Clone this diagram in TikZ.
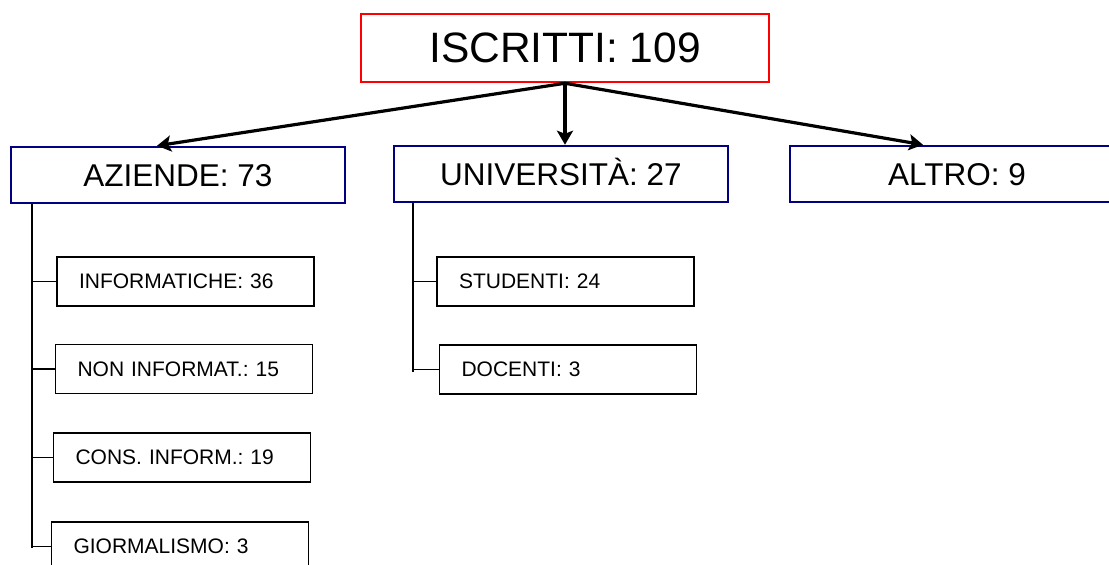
\documentclass[tikz,border=0pt]{standalone}
\usepackage{fontspec}
\setmainfont{Liberation Sans}
\usetikzlibrary{arrows, arrows.meta}
\usetikzlibrary{positioning}
\usepackage{xcolor}
\frenchspacing

\definecolor{topred}{RGB}{255,0,0}
\definecolor{boxblue}{RGB}{0,0,128}

\tikzset{
  topbox/.style={draw=topred, line width=2.5pt, minimum width=408pt, minimum height=68pt, font=\fontsize{42.5}{46}\selectfont},
  catbox/.style={draw=boxblue, line width=2.5pt, minimum width=334pt, minimum height=56pt, text height=23pt, text depth=1pt, font=\fontsize{31.5}{34}\selectfont},
  subbox/.style={draw=black, line width=1.8pt, minimum height=49pt, text width=213pt, inner xsep=22pt, align=left, font=\fontsize{21}{24}\selectfont},
  arr/.style={-{Stealth[length=14pt, width=16pt, inset=3pt]}, line width=3.2pt, black},
  trunk/.style={line width=1.8pt, black}
}

\begin{document}
\begin{tikzpicture}[x=1pt, y=-1pt]
\useasboundingbox (0,0) rectangle (1109,565);
\clip (0,0) rectangle (1109,565);

%boxes
\node [topbox] (iscr) at (565,48) {ISCRITTI: 109};
\node [catbox] (az) at (178,175) {AZIENDE: 73};
\node [catbox] (uni) at (561,174) {UNIVERSITÀ: 27};
\node [catbox] (altro) at (957,174) {ALTRO: 9};

\node [subbox] (inf) at (185.5,281.5) {INFORMATICHE: 36};
\node [subbox] (noninf) at (184,369) {NON INFORMAT.: 15};
\node [subbox] (cons) at (182,457.5) {CONS. INFORM.: 19};
\node [subbox] (gio) at (180,546.5) {GIORMALISMO: 3};
\node [subbox] (stu) at (565.5,281.5) {STUDENTI: 24};
\node [subbox] (doc) at (568,369.5) {DOCENTI: 3};

%arrows
\draw [arr] (iscr.south) -- ([xshift=-21pt]az.north);
\draw [arr] (iscr.south) -- ([xshift=4pt]uni.north);
\draw [arr] (iscr.south) -- ([xshift=-34pt]altro.north);

%trunks
\coordinate (azend) at (32,548);
\coordinate (uniend) at (413,372);
\draw [trunk] (azend |- az.south) -- (azend);
\draw [trunk] (uniend |- uni.south) -- (uniend);
\foreach \b in {inf, noninf, cons, gio}
  \draw [trunk] (azend |- \b.west) -- (\b.west);
\foreach \b in {stu, doc}
  \draw [trunk] (uniend |- \b.west) -- (\b.west);

\end{tikzpicture}
\end{document}
